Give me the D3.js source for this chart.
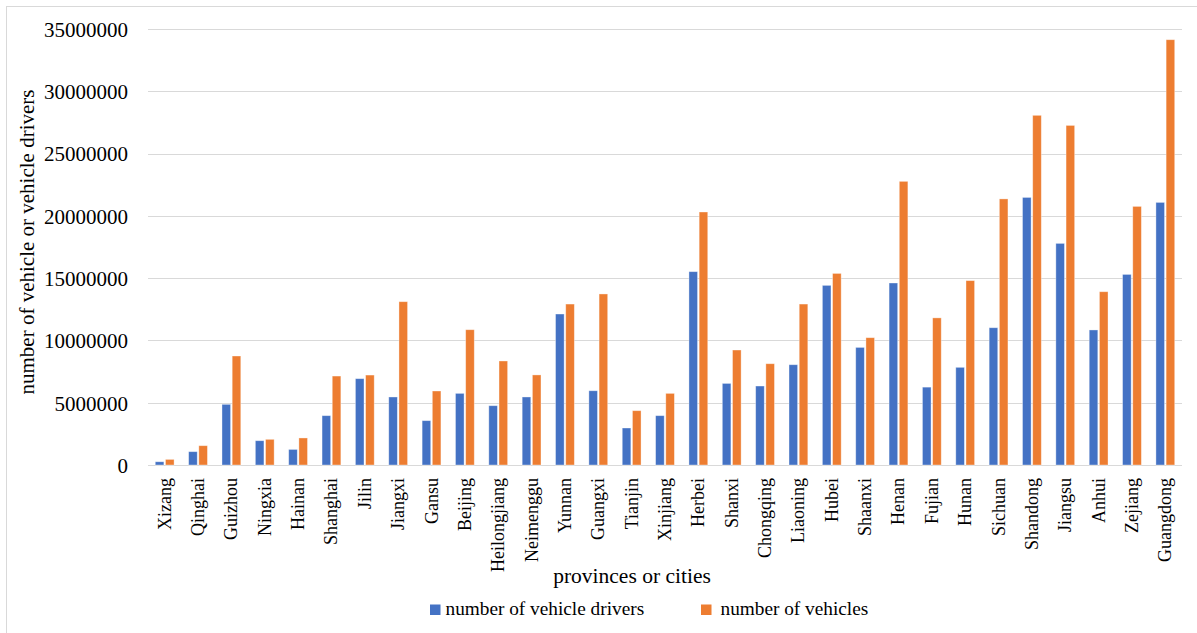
<!DOCTYPE html>
<html>
<head>
<meta charset="utf-8">
<script src="https://cdn.jsdelivr.net/npm/d3@7"></script>
<style>
  html, body { margin: 0; padding: 0; background: #fff; }
  svg { display: block; }
  svg text { font-family: "Liberation Serif", "Times New Roman", serif; }
</style>
</head>
<body>
<svg id="chart" width="1197" height="633"></svg>
<script>
// Provinces / cities, ordered as plotted
const provinces = ["Xizang","Qinghai","Guizhou","Ningxia","Hainan","Shanghai","Jilin","Jiangxi","Gansu","Beijing",
  "Heilongjiang","Neimenggu","Yunnan","Guangxi","Tianjin","Xinjiang","Herbei","Shanxi","Chongqing","Liaoning",
  "Hubei","Shaanxi","Henan","Fujian","Hunan","Sichuan","Shandong","Jiangsu","Anhui","Zejiang","Guangdong"];

// Number of vehicle drivers
const drivers = [260000,1070000,4870000,1950000,1250000,3960000,6930000,5460000,3560000,5750000,
  4760000,5460000,12120000,5960000,2970000,3960000,15520000,6550000,6340000,8050000,
  14420000,9440000,14610000,6250000,7840000,11020000,21480000,17790000,10840000,15300000,21080000];

// Number of vehicles
const vehicles = [450000,1550000,8750000,2060000,2170000,7140000,7220000,13110000,5940000,10860000,
  8350000,7230000,12920000,13730000,4360000,5750000,20310000,9230000,8130000,12920000,
  15380000,10220000,22770000,11810000,14800000,21360000,28070000,27260000,13910000,20760000,34140000];

const yTicks = [0,5000000,10000000,15000000,20000000,25000000,30000000,35000000];
const seriesNames = ["number of vehicle drivers","number of vehicles"];
const seriesColors = ["#4472C4","#ED7D31"];

const svg = d3.select("#chart");
const plot = { left: 148, right: 1182, top: 29, bottom: 465 };
const serif = '"Liberation Serif", "Times New Roman", serif';

// Outer chart frame
svg.append("rect")
  .attr("x", 6.5).attr("y", 6.5)
  .attr("width", 1200).attr("height", 640)
  .attr("fill", "none").attr("stroke", "#d9d9d9").attr("stroke-width", 1);

const x = d3.scaleBand().domain(provinces).range([plot.left, plot.right]).paddingInner(0).paddingOuter(0);
const y = d3.scaleLinear().domain([0, 35000000]).range([plot.bottom, plot.top]);

// Horizontal gridlines
svg.append("g").selectAll("line").data(yTicks).join("line")
  .attr("x1", plot.left).attr("x2", plot.right)
  .attr("y1", d => Math.round(y(d)) + 0.5).attr("y2", d => Math.round(y(d)) + 0.5)
  .attr("stroke", "#d9d9d9").attr("stroke-width", 1.2);

// Y axis tick labels
const yAxis = d3.axisLeft(y).tickValues(yTicks).tickFormat(d3.format("d")).tickSize(0).tickPadding(0);
const gy = svg.append("g").attr("transform", `translate(128,0)`).call(yAxis)
  .attr("font-family", null).attr("font-size", null);
gy.select(".domain").remove();
gy.selectAll("text")
  .style("font-family", serif)
  .style("font-size", "21px").attr("fill", "#000").attr("dy", "0.35em");

// Bars
const barW = 8.6, gap = 1.6;
const series = [drivers, vehicles];
series.forEach((vals, si) => {
  svg.append("g").selectAll("rect").data(provinces).join("rect")
    .attr("x", (d) => x(d) + x.bandwidth() / 2 + (si === 0 ? -(barW + gap / 2) : gap / 2))
    .attr("y", (d, i) => y(vals[i]))
    .attr("width", barW)
    .attr("height", (d, i) => y(0) - y(vals[i]))
    .attr("fill", seriesColors[si])
    .attr("stroke", "#ffffff").attr("stroke-opacity", 0.45).attr("stroke-width", 0.8);
});

// Category labels (rotated)
const xAxis = d3.axisBottom(x).tickSize(0).tickPadding(0);
const gx = svg.append("g").attr("transform", `translate(0,${plot.bottom})`).call(xAxis)
  .attr("font-family", null).attr("font-size", null);
gx.select(".domain").remove();
gx.selectAll("text")
  .style("font-family", serif)
  .style("font-size", "18px").attr("fill", "#000")
  .attr("text-anchor", "end")
  .attr("dy", null)
  .attr("dominant-baseline", "central")
  .attr("transform", "translate(0,13) rotate(-90)")
  .attr("y", 0).attr("x", 0);

// Axis titles
svg.append("text")
  .attr("transform", "translate(27,242) rotate(-90)")
  .attr("text-anchor", "middle").attr("dominant-baseline", "central")
  .style("font-size", "21px").attr("fill", "#000")
  .text("number of vehicle or vehicle drivers");

svg.append("text")
  .attr("x", 632).attr("y", 583)
  .attr("text-anchor", "middle")
  .style("font-size", "21.5px").attr("fill", "#000")
  .text("provinces or cities");

// Legend
const legendX = [430, 701];
const legend = svg.append("g");
seriesNames.forEach((name, i) => {
  legend.append("rect")
    .attr("x", legendX[i]).attr("y", 604.5)
    .attr("width", 10.5).attr("height", 10.5)
    .attr("fill", seriesColors[i]);
  legend.append("text")
    .attr("x", legendX[i] + (i === 0 ? 15.5 : 19.5)).attr("y", 615)
    .style("font-size", "19.3px").attr("fill", "#000")
    .text(name);
});
</script>
</body>
</html>
